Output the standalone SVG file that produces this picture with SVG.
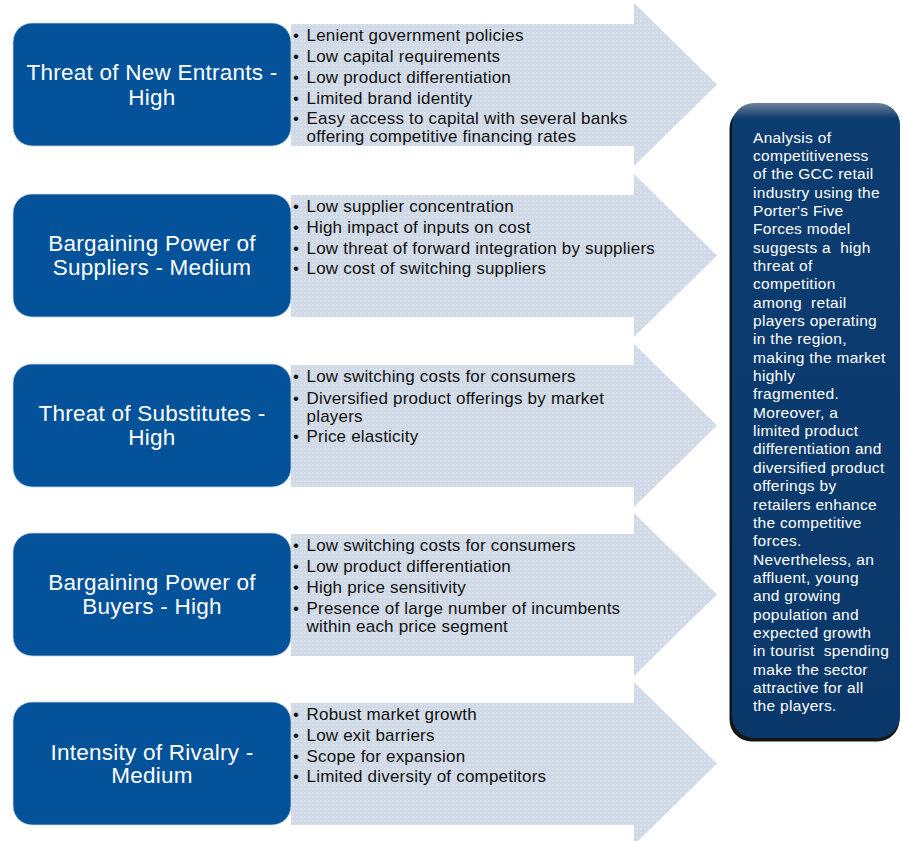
<svg xmlns="http://www.w3.org/2000/svg" width="902" height="841" viewBox="0 0 902 841">
<defs>
<pattern id="dots" width="4" height="4" patternUnits="userSpaceOnUse">
<rect width="4" height="4" fill="#D0D9E6"/>
<circle cx="1" cy="1" r="0.7" fill="#FFFFFF" opacity="0.6"/>
</pattern>
<linearGradient id="navy" x1="0" y1="0" x2="0" y2="1">
<stop offset="0" stop-color="#6E8099"/>
<stop offset="0.025" stop-color="#0C3C70"/>
<stop offset="1" stop-color="#0A386B"/>
</linearGradient>
<style>
.box{fill:#03529A;stroke:#C9D3E2;stroke-width:0.8}
.arrow{fill:url(#dots)}
.head{font-family:"Liberation Sans",Arial,sans-serif;font-size:22.5px;fill:#FFFFFF;text-anchor:middle;letter-spacing:0.25px}
.item{font-family:"Liberation Sans",Arial,sans-serif;font-size:17px;fill:#111111;letter-spacing:0.2px}
.side{font-family:"Liberation Sans",Arial,sans-serif;font-size:15.5px;fill:#FFFFFF;letter-spacing:0.3px}
</style>
</defs>
<rect width="902" height="841" fill="#FFFFFF"/>

<g id="connectors">
<path class="arrow" d="M291,24 H634 V3 L717,84.5 L634,166 V146 H291 Z"/>
<path class="arrow" d="M291,195 H634 V174 L717,255.5 L634,337 V317 H291 Z"/>
<path class="arrow" d="M291,365 H634 V344 L717,425.5 L634,507 V487 H291 Z"/>
<path class="arrow" d="M291,534 H634 V513 L717,594.5 L634,676 V656 H291 Z"/>
<path class="arrow" d="M291,703 H634 V682 L717,763.5 L634,845 V825 H291 Z"/>
</g>

<g id="node-new-entrants">
<rect class="box" x="13" y="23" width="278" height="123" rx="19"/>
<text class="head" x="152" y="80">Threat of New Entrants -</text>
<text class="head" x="152" y="104.5">High</text>
<text class="item" x="293" y="41">•</text><text class="item" x="306.5" y="41">Lenient government policies</text>
<text class="item" x="293" y="62">•</text><text class="item" x="306.5" y="62">Low capital requirements</text>
<text class="item" x="293" y="83">•</text><text class="item" x="306.5" y="83">Low product differentiation</text>
<text class="item" x="293" y="103.5">•</text><text class="item" x="306.5" y="103.5">Limited brand identity</text>
<text class="item" x="293" y="124">•</text><text class="item" x="306.5" y="124">Easy access to capital with several banks</text>
<text class="item" x="306.5" y="142">offering competitive financing rates</text>
</g>

<g id="node-suppliers">
<rect class="box" x="13" y="194" width="278" height="123" rx="19"/>
<text class="head" x="152" y="251">Bargaining Power of</text>
<text class="head" x="152" y="275">Suppliers - Medium</text>
<text class="item" x="293" y="211.5">•</text><text class="item" x="306.5" y="211.5">Low supplier concentration</text>
<text class="item" x="293" y="232.5">•</text><text class="item" x="306.5" y="232.5">High impact of inputs on cost</text>
<text class="item" x="293" y="253.5">•</text><text class="item" x="306.5" y="253.5">Low threat of forward integration by suppliers</text>
<text class="item" x="293" y="274">•</text><text class="item" x="306.5" y="274">Low cost of switching suppliers</text>
</g>

<g id="node-substitutes">
<rect class="box" x="13" y="364" width="278" height="123" rx="19"/>
<text class="head" x="152" y="421">Threat of Substitutes -</text>
<text class="head" x="152" y="445">High</text>
<text class="item" x="293" y="382">•</text><text class="item" x="306.5" y="382">Low switching costs for consumers</text>
<text class="item" x="293" y="403.5">•</text><text class="item" x="306.5" y="403.5">Diversified product offerings by market</text>
<text class="item" x="306.5" y="421.5">players</text>
<text class="item" x="293" y="442">•</text><text class="item" x="306.5" y="442">Price elasticity</text>
</g>

<g id="node-buyers">
<rect class="box" x="13" y="533" width="278" height="123" rx="19"/>
<text class="head" x="152" y="590">Bargaining Power of</text>
<text class="head" x="152" y="614">Buyers - High</text>
<text class="item" x="293" y="551">•</text><text class="item" x="306.5" y="551">Low switching costs for consumers</text>
<text class="item" x="293" y="572">•</text><text class="item" x="306.5" y="572">Low product differentiation</text>
<text class="item" x="293" y="593">•</text><text class="item" x="306.5" y="593">High price sensitivity</text>
<text class="item" x="293" y="614">•</text><text class="item" x="306.5" y="614">Presence of large number of incumbents</text>
<text class="item" x="306.5" y="632">within each price segment</text>
</g>

<g id="node-rivalry">
<rect class="box" x="13" y="702" width="278" height="123" rx="19"/>
<text class="head" x="152" y="759.5">Intensity of Rivalry -</text>
<text class="head" x="152" y="783">Medium</text>
<text class="item" x="293" y="720">•</text><text class="item" x="306.5" y="720">Robust market growth</text>
<text class="item" x="293" y="741">•</text><text class="item" x="306.5" y="741">Low exit barriers</text>
<text class="item" x="293" y="761.5">•</text><text class="item" x="306.5" y="761.5">Scope for expansion</text>
<text class="item" x="293" y="782">•</text><text class="item" x="306.5" y="782">Limited diversity of competitors</text>
</g>

<g id="node-summary">
<rect x="729.5" y="106.5" width="170" height="635" rx="22" fill="#151515"/>
<rect x="732" y="103" width="168" height="635" rx="22" fill="url(#navy)"/>
<text class="side" x="753">
<tspan x="753" y="142.5">Analysis of</tspan>
<tspan x="753" dy="18.35">competitiveness</tspan>
<tspan x="753" dy="18.35">of the GCC retail</tspan>
<tspan x="753" dy="18.35">industry using the</tspan>
<tspan x="753" dy="18.35">Porter's Five</tspan>
<tspan x="753" dy="18.35">Forces model</tspan>
<tspan x="753" dy="18.35">suggests a&#160; high</tspan>
<tspan x="753" dy="18.35">threat of</tspan>
<tspan x="753" dy="18.35">competition</tspan>
<tspan x="753" dy="18.35">among&#160; retail</tspan>
<tspan x="753" dy="18.35">players operating</tspan>
<tspan x="753" dy="18.35">in the region,</tspan>
<tspan x="753" dy="18.35">making the market</tspan>
<tspan x="753" dy="18.35">highly</tspan>
<tspan x="753" dy="18.35">fragmented.</tspan>
<tspan x="753" dy="18.35">Moreover, a</tspan>
<tspan x="753" dy="18.35">limited product</tspan>
<tspan x="753" dy="18.35">differentiation and</tspan>
<tspan x="753" dy="18.35">diversified product</tspan>
<tspan x="753" dy="18.35">offerings by</tspan>
<tspan x="753" dy="18.35">retailers enhance</tspan>
<tspan x="753" dy="18.35">the competitive</tspan>
<tspan x="753" dy="18.35">forces.</tspan>
<tspan x="753" dy="18.35">Nevertheless, an</tspan>
<tspan x="753" dy="18.35">affluent, young</tspan>
<tspan x="753" dy="18.35">and growing</tspan>
<tspan x="753" dy="18.35">population and</tspan>
<tspan x="753" dy="18.35">expected growth</tspan>
<tspan x="753" dy="18.35">in tourist&#160; spending</tspan>
<tspan x="753" dy="18.35">make the sector</tspan>
<tspan x="753" dy="18.35">attractive for all</tspan>
<tspan x="753" dy="18.35">the players.</tspan>
</text>
</g>
</svg>
